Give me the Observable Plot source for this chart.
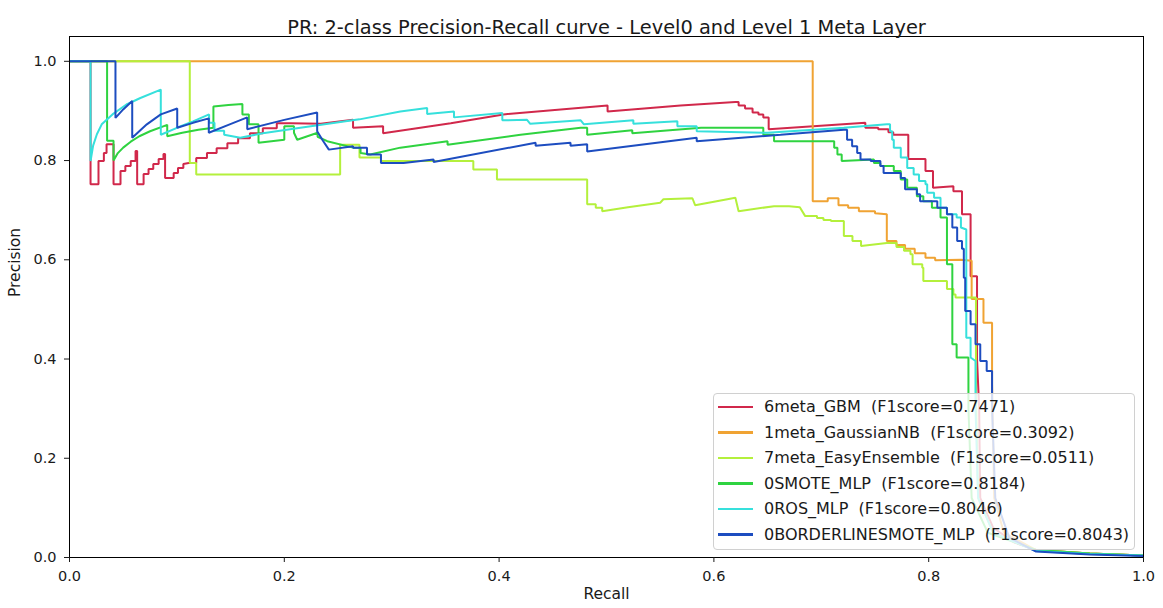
<!DOCTYPE html>
<html>
<head>
<meta charset="utf-8">
<script src="https://cdn.jsdelivr.net/npm/d3@7"></script>
<script src="https://cdn.jsdelivr.net/npm/@observablehq/plot@0.6"></script>
<style>
  html, body { margin: 0; padding: 0; background: #fff; }
  #wrap { position: relative; width: 1163px; height: 608px; font-family: "DejaVu Sans", sans-serif; }
  #legend { position: absolute; left: 713px; top: 393px; width: 422px; height: 157px; box-sizing: border-box;
            border: 1px solid #d0d0d0; border-radius: 4px; background: rgba(255,255,255,0.8); padding-top: 0px; }
  .row { height: 25.6px; line-height: 25.6px; font-size: 16px; color: #1a1a1a; white-space: pre; display: flex; align-items: center; }
  .swatch { display: inline-block; width: 35px; height: 2.6px; margin-left: 4px; margin-right: 11px; }
</style>
</head>
<body>
<div id="wrap">
  <div id="chart"></div>
  <div id="legend"></div>
</div>
<script>
// ---- Data ----
const titleText = "PR: 2-class Precision-Recall curve - Level0 and Level 1 Meta Layer";
const xLabel = "Recall";
const yLabel = "Precision";
const xTicks = [0, 0.2, 0.4, 0.6, 0.8, 1.0];
const yTicks = [0, 0.2, 0.4, 0.6, 0.8, 1.0];

const models = ["6meta_GBM", "1meta_GaussianNB", "7meta_EasyEnsemble", "0SMOTE_MLP", "0ROS_MLP", "0BORDERLINESMOTE_MLP"];
const f1scores = ["0.7471", "0.3092", "0.0511", "0.8184", "0.8046", "0.8043"];
const colors = ["#d1284b", "#f0a333", "#b4f03c", "#2fd340", "#36e0dc", "#1d4dc0"];

const gbmRecall = [0,0.0196,0.0196,0.027,0.027,0.032,0.032,0.0345,0.0345,0.041,0.041,0.0475,0.0475,0.052,0.052,0.057,0.057,0.0615,0.0615,0.063,0.063,0.069,0.069,0.0736,0.0736,0.078,0.078,0.083,0.083,0.0875,0.0875,0.089,0.089,0.097,0.097,0.101,0.101,0.106,0.106,0.111,0.118,0.118,0.128,0.128,0.137,0.137,0.147,0.147,0.157,0.157,0.168,0.168,0.18,0.18,0.193,0.193,0.206,0.234,0.264,0.264,0.292,0.292,0.355,0.404,0.501,0.501,0.569,0.620,0.623,0.623,0.629,0.629,0.636,0.636,0.6415,0.6415,0.646,0.646,0.651,0.651,0.741,0.741,0.753,0.753,0.7625,0.7625,0.767,0.767,0.781,0.781,0.797,0.797,0.804,0.804,0.823,0.823,0.831,0.831,0.839,0.839,0.845,0.845,0.847,0.848,0.86,0.88,0.9,0.95,1.0];
const gbmPrecision = [1,1,0.752,0.752,0.799,0.799,0.815,0.815,0.833,0.833,0.752,0.752,0.779,0.779,0.789,0.789,0.799,0.799,0.819,0.819,0.752,0.752,0.773,0.773,0.783,0.783,0.793,0.793,0.803,0.803,0.813,0.813,0.765,0.765,0.775,0.775,0.785,0.785,0.793,0.795,0.795,0.805,0.805,0.815,0.815,0.825,0.825,0.835,0.835,0.845,0.845,0.855,0.855,0.865,0.865,0.875,0.875,0.874,0.882,0.866,0.869,0.855,0.875,0.893,0.911,0.899,0.911,0.918,0.918,0.911,0.911,0.905,0.905,0.897,0.897,0.893,0.893,0.887,0.887,0.863,0.876,0.866,0.866,0.863,0.863,0.857,0.857,0.852,0.852,0.803,0.803,0.779,0.779,0.745,0.748,0.738,0.738,0.692,0.692,0.567,0.567,0.40,0.30,0.12,0.06,0.03,0.015,0.008,0.004];

const gnbRecall = [0,0.692,0.692,0.706,0.706,0.716,0.716,0.725,0.725,0.735,0.735,0.75,0.75,0.761,0.761,0.77,0.77,0.778,0.778,0.787,0.787,0.797,0.797,0.806,0.806,0.83,0.84,0.84,0.851,0.851,0.859,0.859,0.861,0.87,0.9,0.95,1.0];
const gnbPrecision = [1,1,0.718,0.718,0.724,0.724,0.71,0.71,0.705,0.705,0.698,0.698,0.694,0.692,0.638,0.638,0.63,0.63,0.622,0.622,0.613,0.613,0.604,0.604,0.599,0.6,0.598,0.521,0.521,0.473,0.473,0.35,0.12,0.05,0.015,0.008,0.004];

const easyRecall = [0,0.112,0.112,0.118,0.118,0.252,0.252,0.27,0.27,0.29,0.29,0.376,0.376,0.398,0.398,0.482,0.482,0.49,0.49,0.496,0.496,0.52,0.55,0.553,0.58,0.5825,0.62,0.623,0.656,0.67,0.68,0.685,0.696,0.696,0.702,0.702,0.709,0.709,0.721,0.721,0.729,0.729,0.737,0.737,0.761,0.77,0.77,0.777,0.777,0.783,0.783,0.785,0.785,0.794,0.794,0.795,0.795,0.817,0.817,0.823,0.823,0.825,0.825,0.844,0.844,0.846,0.86,0.9,0.95,1.0];
const easyPrecision = [1,1,0.795,0.795,0.772,0.772,0.832,0.832,0.806,0.806,0.799,0.799,0.782,0.782,0.762,0.762,0.712,0.712,0.705,0.705,0.698,0.706,0.715,0.722,0.724,0.71,0.725,0.698,0.708,0.708,0.706,0.688,0.688,0.684,0.684,0.68,0.68,0.678,0.678,0.648,0.648,0.638,0.638,0.628,0.634,0.634,0.626,0.626,0.618,0.618,0.611,0.611,0.591,0.591,0.584,0.584,0.557,0.557,0.541,0.541,0.53,0.53,0.524,0.524,0.33,0.12,0.05,0.015,0.008,0.004];

const smoteRecall = [0,0.035,0.035,0.041,0.041,0.045,0.05,0.057,0.065,0.075,0.091,0.091,0.105,0.12,0.134,0.134,0.148,0.161,0.161,0.167,0.167,0.176,0.176,0.2,0.2,0.209,0.209,0.212,0.231,0.231,0.24,0.264,0.271,0.271,0.28,0.308,0.352,0.352,0.42,0.476,0.482,0.482,0.524,0.524,0.588,0.6,0.646,0.646,0.656,0.656,0.712,0.712,0.715,0.715,0.719,0.719,0.749,0.749,0.755,0.755,0.7675,0.7675,0.774,0.774,0.78,0.78,0.789,0.789,0.795,0.795,0.803,0.803,0.811,0.811,0.817,0.817,0.822,0.822,0.826,0.826,0.837,0.837,0.84,0.855,0.9,0.95,1.0];
const smotePrecision = [1,1,0.84,0.84,0.80,0.815,0.826,0.838,0.849,0.859,0.872,0.849,0.856,0.862,0.866,0.909,0.912,0.914,0.893,0.893,0.873,0.873,0.836,0.842,0.869,0.869,0.856,0.842,0.856,0.848,0.839,0.826,0.826,0.815,0.812,0.826,0.839,0.832,0.852,0.866,0.866,0.852,0.861,0.855,0.866,0.866,0.866,0.852,0.852,0.839,0.839,0.826,0.826,0.812,0.812,0.799,0.802,0.795,0.795,0.789,0.789,0.779,0.779,0.762,0.762,0.745,0.745,0.728,0.728,0.718,0.718,0.705,0.705,0.685,0.685,0.591,0.591,0.43,0.43,0.403,0.403,0.30,0.12,0.05,0.015,0.008,0.004];

const rosRecall = [0,0.0196,0.0196,0.022,0.0255,0.03,0.04,0.053,0.066,0.085,0.085,0.1,0.115,0.13,0.13,0.135,0.135,0.144,0.144,0.159,0.159,0.18,0.215,0.27,0.308,0.333,0.333,0.358,0.358,0.403,0.403,0.426,0.429,0.476,0.479,0.525,0.525,0.566,0.566,0.584,0.584,0.65,0.721,0.761,0.764,0.764,0.766,0.766,0.7675,0.7675,0.774,0.774,0.78,0.78,0.786,0.786,0.791,0.791,0.797,0.797,0.7986,0.7986,0.805,0.805,0.811,0.811,0.817,0.817,0.826,0.826,0.83,0.83,0.835,0.835,0.839,0.839,0.8436,0.8436,0.846,0.86,0.9,0.95,1.0];
const rosPrecision = [1,1,0.799,0.83,0.853,0.873,0.893,0.913,0.926,0.943,0.852,0.866,0.879,0.893,0.876,0.876,0.86,0.86,0.852,0.846,0.846,0.855,0.866,0.883,0.899,0.906,0.894,0.899,0.887,0.896,0.881,0.882,0.874,0.881,0.873,0.881,0.874,0.879,0.869,0.869,0.859,0.856,0.866,0.873,0.873,0.859,0.859,0.842,0.842,0.826,0.826,0.806,0.806,0.785,0.785,0.772,0.772,0.759,0.759,0.752,0.752,0.735,0.735,0.725,0.725,0.705,0.705,0.692,0.692,0.685,0.685,0.665,0.661,0.443,0.443,0.403,0.396,0.30,0.12,0.05,0.013,0.007,0.004];

const blRecall = [0,0.0428,0.0428,0.05,0.0584,0.0584,0.072,0.085,0.1003,0.1003,0.115,0.1297,0.1297,0.148,0.1655,0.1655,0.2,0.2306,0.2306,0.236,0.2415,0.264,0.264,0.277,0.277,0.29,0.29,0.311,0.339,0.339,0.434,0.434,0.4665,0.4665,0.482,0.482,0.584,0.584,0.662,0.721,0.724,0.724,0.7287,0.7287,0.7334,0.7334,0.7365,0.7365,0.746,0.746,0.755,0.755,0.758,0.758,0.774,0.774,0.778,0.778,0.789,0.789,0.792,0.792,0.808,0.808,0.817,0.817,0.822,0.822,0.8265,0.8265,0.831,0.831,0.8327,0.8327,0.834,0.834,0.839,0.839,0.8436,0.8436,0.848,0.848,0.854,0.854,0.859,0.859,0.862,0.875,0.9,0.95,1.0];
const blPrecision = [1,1,0.886,0.903,0.92,0.846,0.873,0.893,0.905,0.866,0.876,0.885,0.856,0.872,0.887,0.863,0.882,0.897,0.859,0.84,0.822,0.829,0.826,0.826,0.812,0.812,0.795,0.795,0.802,0.797,0.836,0.83,0.836,0.83,0.833,0.818,0.846,0.839,0.852,0.862,0.862,0.842,0.842,0.829,0.829,0.815,0.815,0.802,0.802,0.799,0.799,0.789,0.789,0.775,0.775,0.765,0.765,0.742,0.742,0.732,0.732,0.718,0.718,0.705,0.705,0.692,0.692,0.665,0.665,0.638,0.638,0.622,0.622,0.564,0.564,0.497,0.497,0.47,0.47,0.43,0.43,0.396,0.396,0.376,0.376,0.30,0.12,0.04,0.012,0.006,0.003];

const seriesRecall = [gbmRecall, gnbRecall, easyRecall, smoteRecall, rosRecall, blRecall];
const seriesPrecision = [gbmPrecision, gnbPrecision, easyPrecision, smotePrecision, rosPrecision, blPrecision];

// ---- Build table ----
const rows = [];
models.forEach((m, i) => {
  seriesRecall[i].forEach((r, j) => rows.push({model: m, recall: r, precision: seriesPrecision[i][j]}));
});

const fmt = d3.format(".1f");
const chart = Plot.plot({
  width: 1163,
  height: 608,
  marginLeft: 69,
  marginRight: 20,
  marginTop: 36,
  marginBottom: 51,
  style: {fontFamily: "DejaVu Sans, sans-serif", fontSize: "14px", color: "#1a1a1a", background: "#fff"},
  x: {domain: [0, 1], label: null},
  y: {domain: [0, 1.05], label: null},
  color: {domain: models, range: colors},
  marks: [
    Plot.line(rows, {x: "recall", y: "precision", z: "model", stroke: "model", strokeWidth: 2, strokeLinejoin: "miter", strokeLinecap: "butt"}),
    Plot.frame({stroke: "#000", strokeWidth: 1}),
    Plot.axisX({ticks: xTicks, tickFormat: fmt, tickSize: 5, tickPadding: 8, label: null, fontSize: 14.5}),
    Plot.axisY({ticks: yTicks, tickFormat: fmt, tickSize: 5, tickPadding: 8, label: null, fontSize: 14.5}),
    Plot.text([titleText], {frameAnchor: "top", dy: -16, text: d => d, fontSize: 19.4, fill: "#1a1a1a"}),
    Plot.text([xLabel], {frameAnchor: "bottom", dy: 41, text: d => d, fontSize: 15.5, fill: "#1a1a1a"}),
    Plot.text([yLabel], {frameAnchor: "left", dx: -54, rotate: -90, text: d => d, fontSize: 15.5, fill: "#1a1a1a"})
  ]
});
document.getElementById("chart").appendChild(chart);

// ---- Legend ----
const legend = document.getElementById("legend");
models.forEach((m, i) => {
  const row = document.createElement("div");
  row.className = "row";
  const sw = document.createElement("span");
  sw.className = "swatch";
  sw.style.background = colors[i];
  row.appendChild(sw);
  row.appendChild(document.createTextNode(m + "  (F1score=" + f1scores[i] + ")"));
  legend.appendChild(row);
});
</script>
</body>
</html>
